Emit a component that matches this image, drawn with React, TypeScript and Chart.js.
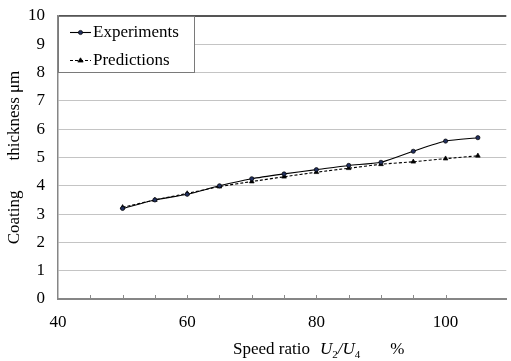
import React, { useEffect, useRef } from "react";
import { Chart, registerables } from "chart.js";

Chart.register(...registerables);

// Coating thickness (µm) against speed ratio U2/U4 (%)
const speedRatio = [50, 55, 60, 65, 70, 75, 80, 85, 90, 95, 100, 105];
const experiments = [3.2, 3.5, 3.7, 4.0, 4.25, 4.42, 4.57, 4.72, 4.83, 5.22, 5.58, 5.7];
const predictions = [3.24, 3.5, 3.73, 3.97, 4.15, 4.32, 4.48, 4.62, 4.76, 4.85, 4.96, 5.06];

const seriesNames = ["Experiments", "Predictions"];
const xLabelTicks = [40, 60, 80, 100];
const xRange = [40, 109.4];
const yRange = [0, 10];

const SERIF = "'Liberation Serif', 'Times New Roman', serif";
const FONT_SIZE = 17;

// Small tick marks along the bottom axis, pointing into the plot
const minorTicksPlugin = {
  id: "minorTicks",
  afterDraw(chart: any) {
    const { ctx, chartArea, scales } = chart;
    const xs = scales.x;
    ctx.save();
    ctx.strokeStyle = "#8a8a8a";
    ctx.lineWidth = 1;
    for (const t of xs.ticks) {
      const v = t.value;
      if (v % 5 !== 0 || v <= xRange[0]) continue;
      const px = Math.round(xs.getPixelForValue(v)) + 0.5;
      ctx.beginPath();
      ctx.moveTo(px, chartArea.bottom);
      ctx.lineTo(px, chartArea.bottom - 4);
      ctx.stroke();
    }
    ctx.restore();
  },
};

function drawMarker(ctx: CanvasRenderingContext2D, ds: any, x: number, y: number) {
  const r = ds.pointRadius;
  ctx.save();
  ctx.fillStyle = ds.pointBackgroundColor;
  ctx.strokeStyle = ds.pointBorderColor;
  ctx.lineWidth = ds.pointBorderWidth;
  ctx.setLineDash([]);
  ctx.beginPath();
  if (ds.pointStyle === "triangle") {
    ctx.moveTo(x, y - r);
    ctx.lineTo(x + r * 0.866 * 1.15, y + r * 0.5 * 1.15);
    ctx.lineTo(x - r * 0.866 * 1.15, y + r * 0.5 * 1.15);
    ctx.closePath();
  } else {
    ctx.arc(x, y, r, 0, Math.PI * 2);
  }
  ctx.fill();
  ctx.stroke();
  ctx.restore();
}

// Boxed legend with line + marker samples
const boxLegendPlugin = {
  id: "boxLegend",
  afterDraw(chart: any) {
    const { ctx, chartArea } = chart;
    const left = chartArea.left;
    const top = chartArea.top;
    const w = 137;
    const h = 57;
    ctx.save();
    ctx.fillStyle = "#ffffff";
    ctx.fillRect(left, top, w, h);
    ctx.strokeStyle = "#7a7a7a";
    ctx.lineWidth = 1;
    ctx.strokeRect(left + 0.5, top + 0.5, w - 1, h - 1);

    const rows = [top + 16, top + 44];
    chart.data.datasets.forEach((ds: any, i: number) => {
      const y = rows[i] + 0.5;
      ctx.save();
      ctx.strokeStyle = ds.borderColor;
      ctx.lineWidth = ds.borderWidth;
      ctx.setLineDash(ds.borderDash || []);
      ctx.beginPath();
      ctx.moveTo(left + 12, y);
      ctx.lineTo(left + 33, y);
      ctx.stroke();
      ctx.restore();
      drawMarker(ctx, ds, left + 22.5, y);
      ctx.fillStyle = "#000";
      ctx.font = `${FONT_SIZE}px ${SERIF}`;
      ctx.textBaseline = "middle";
      ctx.textAlign = "left";
      ctx.fillText(ds.label, left + 35, rows[i] + 1);
    });
    ctx.restore();
  },
};

// Axis titles with italic symbols and subscripts
const axisTitlesPlugin = {
  id: "axisTitles",
  afterDraw(chart: any) {
    const { ctx, chartArea, height } = chart;
    ctx.save();
    ctx.fillStyle = "#000";
    ctx.textBaseline = "alphabetic";
    ctx.textAlign = "left";

    const regular = `${FONT_SIZE}px ${SERIF}`;
    const italic = `italic ${FONT_SIZE}px ${SERIF}`;
    const sub = `11px ${SERIF}`;
    const baseline = height - 7;
    let x = chartArea.left + 175;
    const put = (text: string, font: string, dy = 0) => {
      ctx.font = font;
      ctx.fillText(text, x, baseline + dy);
      x += ctx.measureText(text).width;
    };
    put("Speed ratio", regular);
    x += 10;
    put("U", italic);
    put("2", sub, 4);
    put("/", italic);
    put("U", italic);
    put("4", sub, 4);
    x += 30;
    put("%", regular);

    // vertical title
    ctx.font = regular;
    const a = "Coating";
    const b = "thickness μm";
    const gap = 30;
    const wa = ctx.measureText(a).width;
    const wb = ctx.measureText(b).width;
    const total = wa + gap + wb;
    ctx.translate(15, (chartArea.top + chartArea.bottom) / 2);
    ctx.rotate(-Math.PI / 2);
    ctx.textBaseline = "middle";
    ctx.fillText(a, -total / 2, 0);
    ctx.fillText(b, -total / 2 + wa + gap, 0);
    ctx.restore();
  },
};

export default function App() {
  const canvasRef = useRef<HTMLCanvasElement | null>(null);

  useEffect(() => {
    const canvas = canvasRef.current;
    if (!canvas) return;

    const chart = new Chart(canvas, {
      type: "line",
      data: {
        datasets: [
          {
            label: seriesNames[0],
            data: speedRatio.map((x, i) => ({ x, y: experiments[i] })),
            borderColor: "#000000",
            borderWidth: 1.1,
            tension: 0.22,
            pointStyle: "circle",
            pointRadius: 2.1,
            pointBackgroundColor: "#22305e",
            pointBorderColor: "#000000",
            pointBorderWidth: 0.7,
          },
          {
            label: seriesNames[1],
            data: speedRatio.map((x, i) => ({ x, y: predictions[i] })),
            borderColor: "#000000",
            borderWidth: 1.1,
            borderDash: [3, 2],
            tension: 0.22,
            pointStyle: "triangle",
            pointRadius: 2.7,
            pointBackgroundColor: "#000000",
            pointBorderColor: "#000000",
            pointBorderWidth: 0.7,
          },
        ],
      },
      options: {
        responsive: false,
        animation: false,
        devicePixelRatio: 1,
        layout: { padding: { top: 16, right: 0, left: 0, bottom: 0 } },
        plugins: {
          legend: { display: false },
          tooltip: { enabled: false },
          title: { display: false },
        },
        scales: {
          x: {
            type: "linear",
            min: xRange[0],
            max: xRange[1],
            offset: false,
            afterFit: (s: any) => {
              s.height = 62;
              s.paddingLeft = 0;
              s.paddingRight = 0;
            },
            ticks: {
              stepSize: 5,
              autoSkip: false,
              maxRotation: 0,
              padding: 13,
              color: "#000",
              font: { family: SERIF, size: FONT_SIZE },
              callback: (v: any) => (xLabelTicks.includes(Number(v)) ? String(v) : ""),
            },
            grid: { drawOnChartArea: false, drawTicks: false },
            border: { display: true, color: "#868686", width: 2 },
          },
          y: {
            type: "linear",
            min: yRange[0],
            max: yRange[1],
            afterFit: (s: any) => {
              s.width = 58;
              s.paddingTop = 0;
              s.paddingBottom = 0;
            },
            ticks: {
              stepSize: 1,
              padding: 13,
              color: "#000",
              font: { family: SERIF, size: FONT_SIZE },
            },
            grid: {
              drawTicks: false,
              color: (c: any) =>
                c.tick && c.tick.value === yRange[1]
                  ? "#555555"
                  : c.tick && c.tick.value === yRange[0]
                  ? "rgba(0,0,0,0)"
                  : "#c4c4c4",
              lineWidth: (c: any) => (c.tick && c.tick.value === yRange[1] ? 2 : 1),
            },
            border: { display: true, color: "#868686", width: 1.5 },
          },
        },
      },
      plugins: [minorTicksPlugin, boxLegendPlugin, axisTitlesPlugin],
    } as any);

    return () => chart.destroy();
  }, []);

  return (
    <div
      style={{
        position: "fixed",
        left: 0,
        top: 0,
        width: 511,
        height: 361,
        background: "#ffffff",
        overflow: "hidden",
      }}
    >
      <canvas ref={canvasRef} width={511} height={361} style={{ display: "block" }} />
    </div>
  );
}
